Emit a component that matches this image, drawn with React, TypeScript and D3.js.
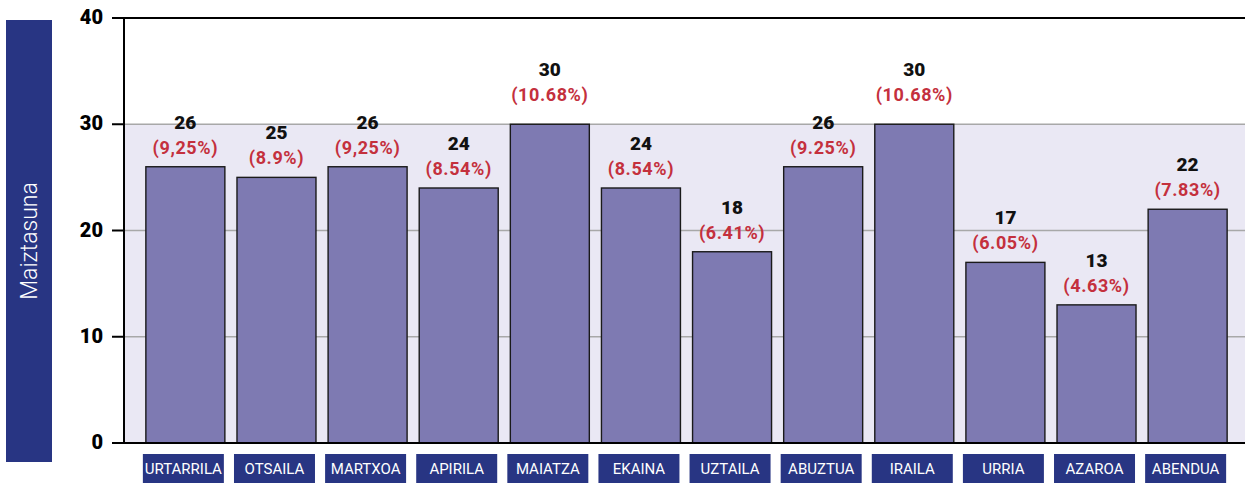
import React from 'react';
import * as d3 from 'd3';

const months = ['URTARRILA', 'OTSAILA', 'MARTXOA', 'APIRILA', 'MAIATZA', 'EKAINA', 'UZTAILA', 'ABUZTUA', 'IRAILA', 'URRIA', 'AZAROA', 'ABENDUA'];
const counts = [26, 25, 26, 24, 30, 24, 18, 26, 30, 17, 13, 22];
const percents = ['(9,25%)', '(8.9%)', '(9,25%)', '(8.54%)', '(10.68%)', '(8.54%)', '(6.41%)', '(9.25%)', '(10.68%)', '(6.05%)', '(4.63%)', '(7.83%)'];
const yTicks = [0, 10, 20, 30, 40];
const bandRange = [0, 30];
const yTitle = 'Maiztasuna';

const W = 1245;
const H = 483;
const left = 124;
const top = 18;
const bottom = 443;

export default function App() {
  const x = d3.scaleBand<string>()
    .domain(months)
    .range([left, 1249])
    .paddingInner(0.133)
    .paddingOuter(0.24);

  const y = d3.scaleLinear().domain([0, 40]).range([bottom, top]);

  const navy = '#283583';
  const font = 'Roboto, "Open Sans", sans-serif';

  return (
    <svg width={W} height={H} style={{ position: 'absolute', left: 0, top: 0 }} fontFamily={font}>
      <rect x={0} y={0} width={W} height={H} fill="#fff" />
      {/* shaded band */}
      <rect x={left} y={y(bandRange[1])} width={W - left} height={y(bandRange[0]) - y(bandRange[1])} fill="#EAE8F4" />
      {/* gridlines */}
      {yTicks.filter(t => t > 0 && t < 40).map(t => (
        <line key={t} x1={left} x2={W} y1={y(t)} y2={y(t)} stroke="#a8a8a8" strokeWidth={1.5} />
      ))}
      {/* tick marks */}
      {yTicks.map(t => (
        <g key={'t' + t}>
          <line x1={112} x2={left} y1={y(t)} y2={y(t)} stroke="#000" strokeWidth={2} />
          <text x={103} y={y(t) - 1} dy="0.36em" textAnchor="end" fontSize={20} fontWeight={900} fill="#000">{t}</text>
        </g>
      ))}
      {/* bars */}
      {months.map((m, i) => {
        // labels sitting on the band edge get pushed up a bit
        const lift = counts[i] >= bandRange[1] ? 10 : 0;
        const cx = (x(m) as number) + x.bandwidth() / 2;
        return (
          <g key={m}>
            <rect x={x(m)} y={y(counts[i])} width={x.bandwidth()} height={bottom - y(counts[i])} fill="#7E7AB2" stroke="#1a1a1a" strokeWidth={1.4} />
            <text x={cx} y={y(counts[i]) - 38 - lift} textAnchor="middle" fontSize={19} fontWeight={900} fill="#111">{counts[i]}</text>
            <text x={cx} y={y(counts[i]) - 13 - lift} textAnchor="middle" fontSize={18} fontWeight={700} fill="#C4303D" letterSpacing={0.6}>{percents[i]}</text>
            <rect x={(x(m) as number) - 3} y={454} width={x.bandwidth() + 2} height={29} fill={navy} />
            <text x={cx - 2} y={468.5} dy="0.36em" textAnchor="middle" fontSize={15} fill="#fff">{m}</text>
          </g>
        );
      })}
      {/* axes */}
      <line x1={112} x2={W} y1={top} y2={top} stroke="#000" strokeWidth={2} />
      <line x1={112} x2={W} y1={bottom} y2={bottom} stroke="#000" strokeWidth={2} />
      <line x1={left} x2={left} y1={top} y2={bottom} stroke="#000" strokeWidth={2} />
      {/* y title box */}
      <rect x={6} y={20} width={46} height={442} fill={navy} />
      <text transform={`translate(29,241) rotate(-90)`} textAnchor="middle" dy="0.36em" fontSize={23} fontWeight={300} fill="#fff">{yTitle}</text>
    </svg>
  );
}
